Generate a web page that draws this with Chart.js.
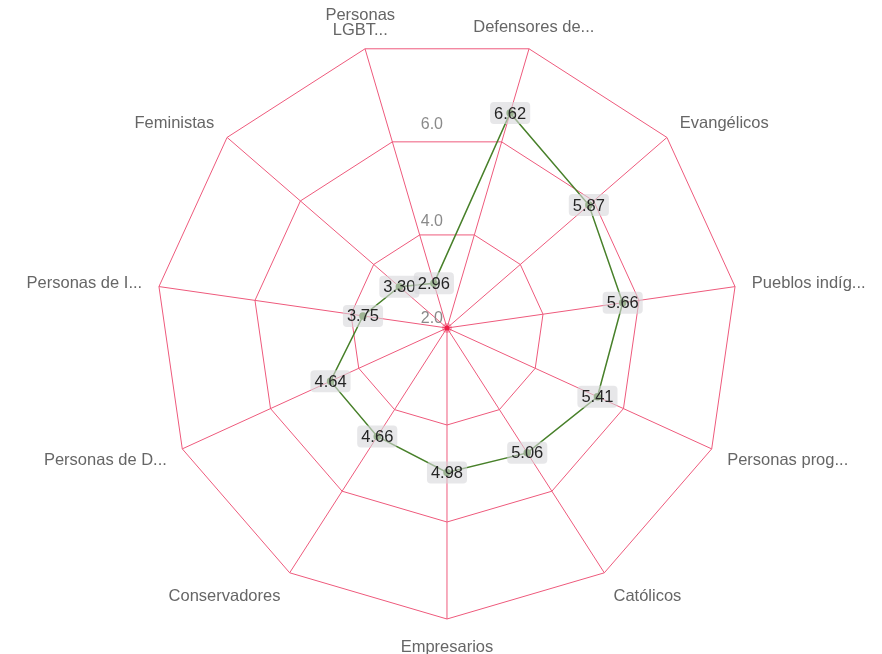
<!DOCTYPE html>
<html>
<head>
<meta charset="utf-8">
<script src="https://cdn.jsdelivr.net/npm/chart.js@4"></script>
<style>
html,body{margin:0;padding:0;background:#fff;}
#wrap{width:882px;height:654px;position:relative;}
</style>
</head>
<body>
<div id="wrap"><canvas id="c"></canvas></div>
<script>
// ---- data ----
const categories = [
  ['Personas', 'LGBT...'],
  'Defensores de...',
  'Evangélicos',
  'Pueblos indíg...',
  'Personas prog...',
  'Católicos',
  'Empresarios',
  'Conservadores',
  'Personas de D...',
  'Personas de I...',
  'Feministas'
];
const values = [2.96, 6.62, 5.87, 5.66, 5.41, 5.06, 4.98, 4.66, 4.64, 3.75, 3.30];
const tickValues = [2, 4, 6];
const tickLabels = ['2.0', '4.0', '6.0'];
const scaleMin = 2;
const scaleMax = 8;
const scaleStep = 2;

// ---- styles ----
const FONT = '"Liberation Sans", Arial, Helvetica, sans-serif';
const gridColor = '#ee5a7c';
const lineColor = 'rgb(72,128,42)';

const customDraw = {
  id: 'customDraw',
  beforeDatasetsDraw(chart) {
    const ctx = chart.ctx;
    const s = chart.scales.r;
    ctx.save();
    // centre dot
    ctx.fillStyle = 'rgba(238,40,80,0.35)';
    ctx.beginPath(); ctx.arc(s.xCenter, s.yCenter, 5, 0, Math.PI * 2); ctx.fill();
    ctx.fillStyle = 'rgb(238,30,70)';
    ctx.beginPath(); ctx.arc(s.xCenter, s.yCenter, 2.5, 0, Math.PI * 2); ctx.fill();

    // tick labels
    ctx.font = '16px ' + FONT;
    ctx.fillStyle = '#8a8a8a';
    ctx.textAlign = 'right';
    ctx.textBaseline = 'middle';
    tickValues.forEach((v, i) => {
      const d = s.getDistanceFromCenterForValue(v);
      ctx.fillText(tickLabels[i], s.xCenter - 4, s.yCenter - d - 9);
    });

    // point labels
    ctx.font = '16.5px ' + FONT;
    ctx.fillStyle = '#666';
    const lineH = 15;
    categories.forEach((lab, i) => {
      const dist = s.drawingArea + 17;
      const p = s.getPointPosition(i, dist);
      const sx = (p.x - s.xCenter) / dist;
      const cy = -(p.y - s.yCenter) / dist;
      const lines = Array.isArray(lab) ? lab : [lab];
      const n = lines.length;
      ctx.textAlign = sx > 0.3 ? 'left' : (sx < -0.3 ? 'right' : 'center');
      let mid = p.y - (cy > 0 ? 5 * cy : 11 * cy);
      mid -= (n - 1) * lineH * 0.3;
      lines.forEach((ln, k) => {
        ctx.fillText(ln, p.x, mid - (n - 1) * lineH / 2 + k * lineH);
      });
    });
    ctx.restore();
  },
  afterDatasetsDraw(chart) {
    const ctx = chart.ctx;
    const meta = chart.getDatasetMeta(0);
    ctx.save();
    ctx.font = '16.5px ' + FONT;
    ctx.textAlign = 'center';
    ctx.textBaseline = 'middle';
    const order = meta.data.map((_, i) => i).reverse();
    order.forEach(i => {
      const pt = meta.data[i];
      const txt = values[i].toFixed(2);
      const w = ctx.measureText(txt).width + 8;
      const h = 22;
      const x = pt.x - w / 2, y = pt.y - h / 2;
      ctx.fillStyle = 'rgba(215,215,218,0.6)';
      ctx.beginPath();
      if (ctx.roundRect) ctx.roundRect(x, y, w, h, 4); else ctx.rect(x, y, w, h);
      ctx.fill();
      ctx.fillStyle = '#252525';
      ctx.fillText(txt, pt.x, pt.y + 1);
    });
    ctx.restore();
  }
};

new Chart(document.getElementById('c'), {
  type: 'radar',
  data: {
    labels: categories,
    datasets: [{
      data: values,
      borderColor: lineColor,
      borderWidth: 1.5,
      backgroundColor: 'rgba(0,0,0,0)',
      fill: false,
      pointRadius: 3,
      pointBackgroundColor: lineColor,
      pointBorderColor: lineColor,
      tension: 0
    }]
  },
  options: {
    responsive: true,
    maintainAspectRatio: false,
    animation: false,
    layout: { padding: { top: 37, bottom: 35, left: 12, right: 0 } },
    plugins: { legend: { display: false }, tooltip: { enabled: false } },
    scales: {
      r: {
        min: scaleMin,
        max: scaleMax,
        startAngle: -16.36,
        ticks: { display: false, stepSize: scaleStep },
        grid: { color: gridColor, lineWidth: 1 },
        angleLines: { color: gridColor, lineWidth: 1 },
        pointLabels: { display: false }
      }
    }
  },
  plugins: [customDraw]
});
</script>
</body>
</html>
